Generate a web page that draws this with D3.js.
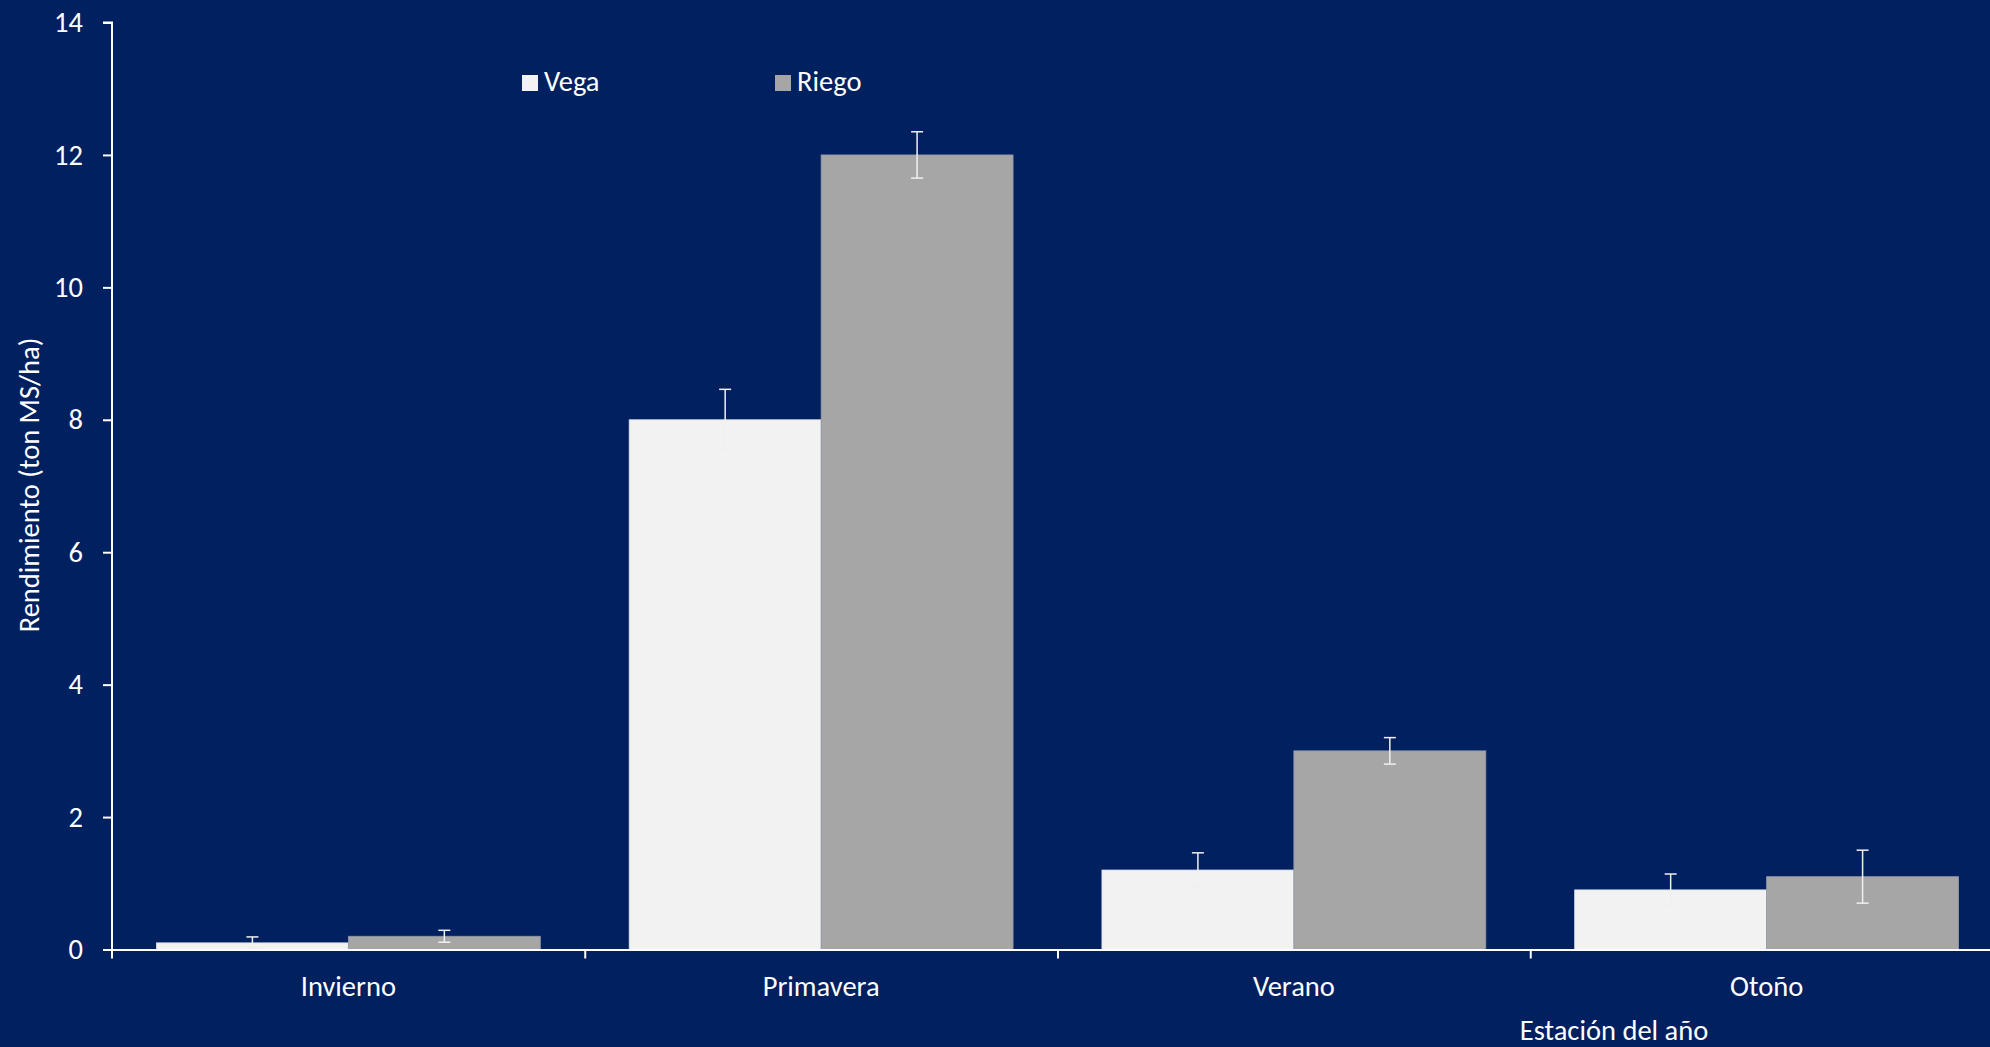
<!DOCTYPE html>
<html>
<head>
<meta charset="utf-8">
<script src="https://cdn.jsdelivr.net/npm/d3@7"></script>
<style>
  html, body { margin: 0; padding: 0; background: #002060; overflow: hidden; }
  svg { display: block; }
  text { font-family: Carlito, Calibri, Lato, sans-serif; fill: #ffffff; }
</style>
</head>
<body>
<svg id="chart" width="1990" height="1047"></svg>
<script>
// ---- Data ----
const categories = ["Invierno", "Primavera", "Verano", "Otoño"];
const seriesNames = ["Vega", "Riego"];
const vegaValues  = [0.10, 8.0, 1.2, 0.9];
const riegoValues = [0.20, 12.0, 3.0, 1.1];
const vegaErrors  = [0.09, 0.46, 0.26, 0.24];
const riegoErrors = [0.09, 0.35, 0.20, 0.40];
const yTicks = [0, 2, 4, 6, 8, 10, 12, 14];
const yTitle = "Rendimiento (ton MS/ha)";
const xTitle = "Estación del año";

const colors = { Vega: "#f2f2f2", Riego: "#a6a6a6" };

(function () {
const FS = "28.5px";
const svg = d3.select("#chart");
const W = 1990, H = 1047;
svg.append("rect").attr("width", W).attr("height", H).attr("fill", "#002060");

const pLeft = 112, pRight = 2003, pTop = 22.5, pBottom = 949.5;

const x = d3.scaleBand().domain(categories).range([pLeft, pRight]).paddingInner(0).paddingOuter(0);
const bw = x.bandwidth();
const gap = bw * 0.094;
const x1 = d3.scaleBand().domain(seriesNames).range([gap, bw - gap]).padding(0);
const y = d3.scaleLinear().domain([0, 14]).range([pBottom, pTop]);

const rows = categories.map((c, i) => ({
  cat: c,
  items: [
    { s: "Vega", v: vegaValues[i], e: vegaErrors[i] },
    { s: "Riego", v: riegoValues[i], e: riegoErrors[i] }
  ]
}));

// Bars
const g = svg.append("g");
const groups = g.selectAll("g.grp").data(rows).join("g")
  .attr("class", "grp")
  .attr("transform", d => `translate(${x(d.cat)},0)`);

groups.selectAll("rect").data(d => d.items).join("rect")
  .attr("x", d => x1(d.s))
  .attr("width", x1.bandwidth())
  .attr("y", d => y(d.v))
  .attr("height", d => y(0) - y(d.v))
  .attr("fill", d => colors[d.s])
  .attr("stroke", d => d.s === "Riego" ? "#8f96a8" : "#dfe2e8")
  .attr("stroke-width", 0.8);

// Error bars
const capHalf = 6;
const eb = groups.selectAll("g.eb").data(d => d.items).join("g").attr("class", "eb");
const cx = d => x1(d.s) + x1.bandwidth() / 2;
eb.append("line")
  .attr("x1", cx).attr("x2", cx)
  .attr("y1", d => y(d.v + d.e))
  .attr("y2", d => y(Math.max(0, d.v - d.e)))
  .attr("stroke", "#f0f0f0").attr("stroke-width", 1.5);
eb.append("line")
  .attr("x1", d => cx(d) - capHalf).attr("x2", d => cx(d) + capHalf)
  .attr("y1", d => y(d.v + d.e)).attr("y2", d => y(d.v + d.e))
  .attr("stroke", "#f0f0f0").attr("stroke-width", 1.5);
eb.append("line")
  .attr("x1", d => cx(d) - capHalf).attr("x2", d => cx(d) + capHalf)
  .attr("y1", d => y(Math.max(0, d.v - d.e))).attr("y2", d => y(Math.max(0, d.v - d.e)))
  .attr("stroke", "#f0f0f0").attr("stroke-width", 1.5);

// Y axis
const yAxis = svg.append("g").attr("transform", `translate(${pLeft},0)`)
  .call(d3.axisLeft(y).tickValues(yTicks).tickSize(9).tickPadding(20).tickFormat(d3.format("d")));
yAxis.select(".domain").attr("stroke", "#ffffff").attr("stroke-width", 2)
  .attr("d", `M-9,${pTop}H0V${pBottom + 9}`);
yAxis.selectAll(".tick line").attr("stroke", "#ffffff").attr("stroke-width", 2);
yAxis.selectAll(".tick text").style("font-size", FS).attr("fill", "#ffffff");

// X axis: labels at centers, ticks at boundaries
const xAxis = svg.append("g").attr("transform", `translate(0,${pBottom})`)
  .call(d3.axisBottom(x).tickSize(0).tickPadding(26));
xAxis.select(".domain").attr("stroke", "#ffffff").attr("stroke-width", 2);
xAxis.selectAll(".tick text").style("font-size", FS).attr("fill", "#ffffff");

const xb = d3.scaleLinear().domain([0, categories.length]).range([pLeft, pRight]);
const xTickG = svg.append("g").attr("transform", `translate(0,${pBottom})`)
  .call(d3.axisBottom(xb).tickValues(d3.range(1, categories.length)).tickSize(9).tickFormat(""));
xTickG.select(".domain").remove();
xTickG.selectAll(".tick line").attr("stroke", "#ffffff").attr("stroke-width", 2);

// Axis titles
svg.append("text")
  .attr("transform", `translate(39,485) rotate(-90)`)
  .attr("text-anchor", "middle")
  .style("font-size", FS)
  .text(yTitle);
svg.append("text")
  .attr("x", 1614).attr("y", 1040)
  .attr("text-anchor", "middle")
  .style("font-size", FS)
  .text(xTitle);

// Legend
const legendX = [522, 775];
const lg = svg.append("g").selectAll("g").data(seriesNames).join("g")
  .attr("transform", (d, i) => `translate(${legendX[i]},75)`);
lg.append("rect").attr("width", 16).attr("height", 16).attr("fill", d => colors[d]);
lg.append("text").attr("x", 22).attr("y", 16).style("font-size", FS).text(d => d);
})();
</script>
</body>
</html>
